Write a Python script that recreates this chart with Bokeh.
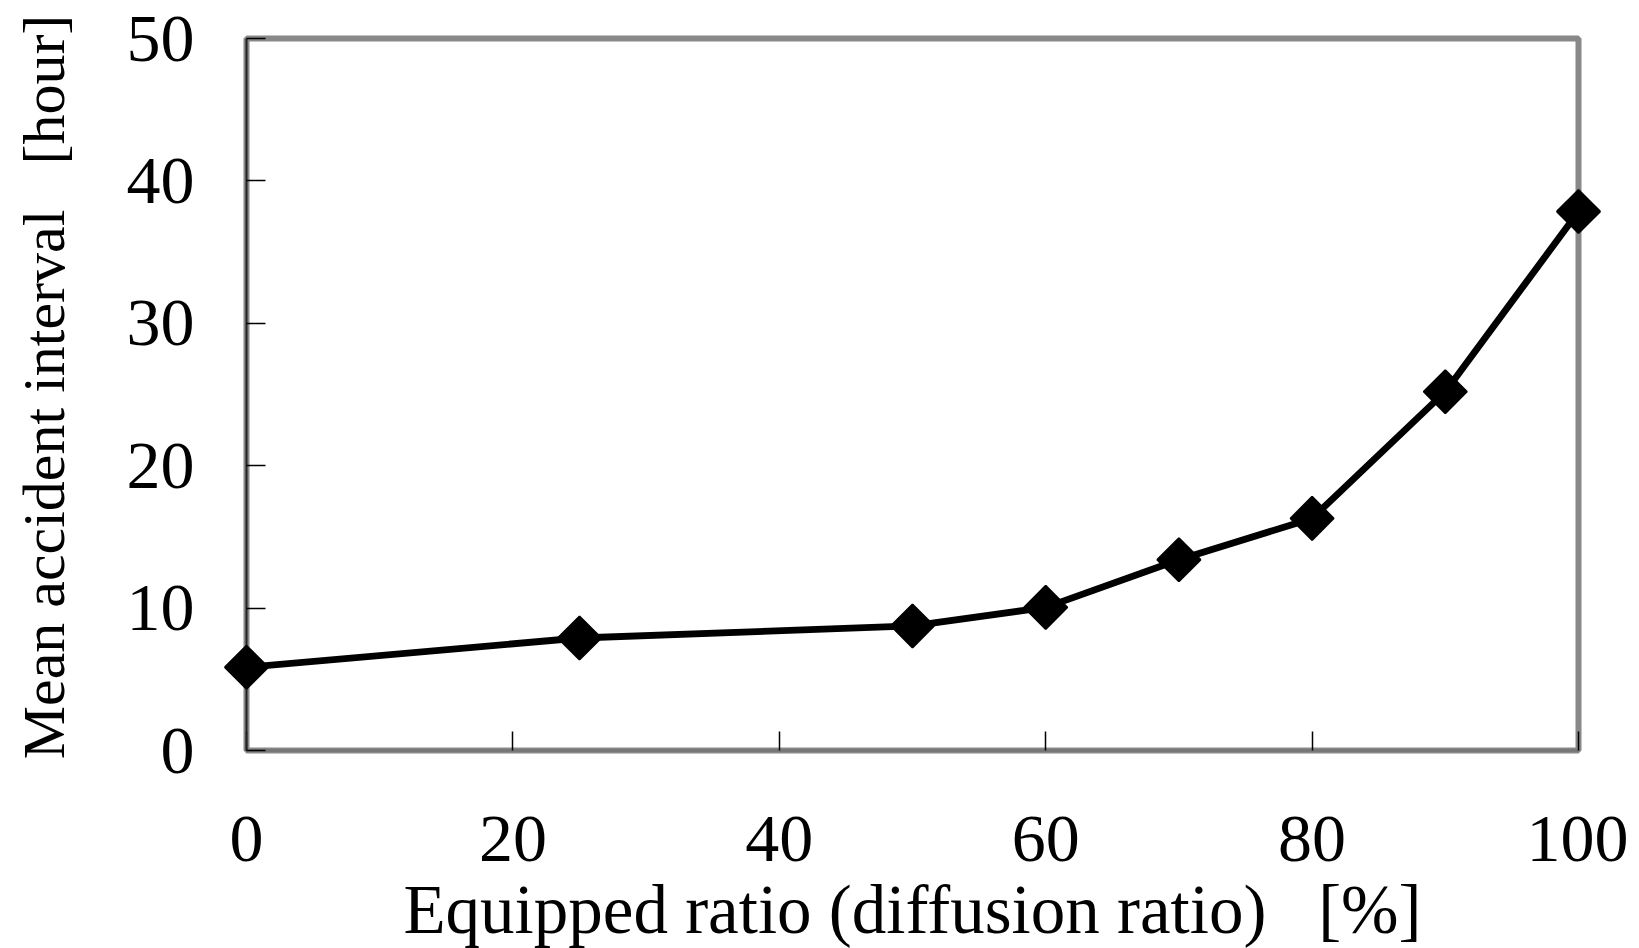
import numpy as np
from bokeh.plotting import figure
from bokeh.models import FixedTicker, Range1d
from bokeh.embed import file_html
from bokeh.resources import INLINE

# Data
equipped_ratio = [0, 25, 50, 60, 70, 80, 90, 100]
mean_interval = [5.85, 7.9, 8.75, 10.05, 13.4, 16.3, 25.2, 37.85]
x_ticks = [0, 20, 40, 60, 80, 100]
y_ticks = [0, 10, 20, 30, 40, 50]

FONT = "Liberation Serif"

p = figure(
    output_backend="svg", toolbar_location=None,
    frame_width=1332, frame_height=712,
    min_border_left=246, min_border_top=38, min_border_right=50, min_border_bottom=180,
    x_range=Range1d(0, 100), y_range=Range1d(0, 50),
)
p.background_fill_color = "white"
p.border_fill_color = "white"
p.outline_line_color = "#888888"
p.outline_line_width = 6

p.xgrid.visible = False
p.ygrid.visible = False

p.line(equipped_ratio, mean_interval, line_color="black", line_width=6.8, level="overlay")
p.scatter(equipped_ratio, mean_interval, marker="square", angle=np.pi / 4,
          size=30.5, fill_color="black", line_color="black", line_width=2, level="overlay")

for ax in (p.xaxis[0], p.yaxis[0]):
    ax.major_tick_in = 19
    ax.major_tick_out = 0
    ax.minor_tick_line_color = None
    ax.major_tick_line_color = "black"
    ax.major_tick_line_width = 1.5
    ax.major_label_text_font = FONT
    ax.major_label_text_font_size = "68px"
    ax.major_label_text_color = "black"
    ax.axis_label_text_font = FONT
    ax.axis_label_text_font_style = "normal"
    ax.axis_label_text_color = "black"

p.xaxis.axis_label_text_font_size = "69px"
p.yaxis.axis_label_text_font_size = "60px"

p.xaxis.ticker = FixedTicker(ticks=x_ticks)
p.yaxis.ticker = FixedTicker(ticks=y_ticks)
p.xaxis.axis_line_color = "#777777"
p.xaxis.axis_line_width = 3
p.yaxis.axis_line_color = "#222222"
p.yaxis.axis_line_width = 2

p.xaxis.major_label_standoff = 66
p.yaxis.major_label_standoff = 52
p.xaxis.axis_label = "Equipped ratio (diffusion ratio)\u00a0\u00a0\u00a0[%]"
p.yaxis.axis_label = "\u00a0Mean accident interval\u00a0\u00a0\u00a0[hour]"
p.xaxis.axis_label_standoff = 8
p.yaxis.axis_label_standoff = 47

open("out.html", "w").write(file_html(p, INLINE))
